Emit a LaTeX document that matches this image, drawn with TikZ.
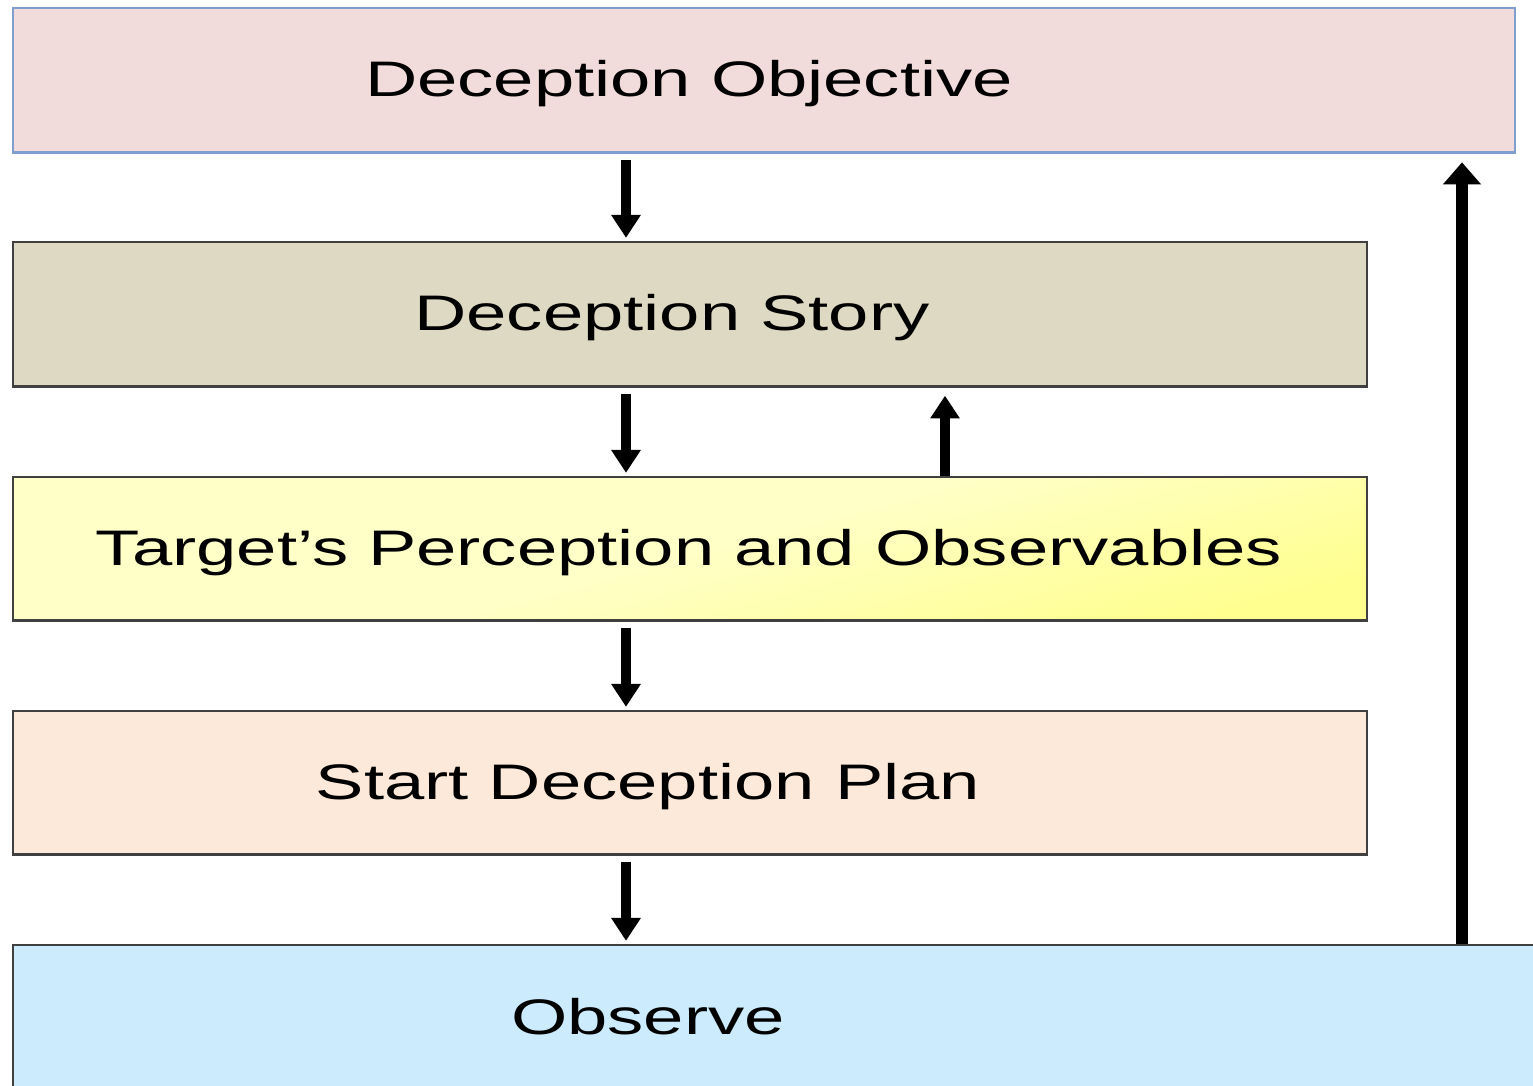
\documentclass[tikz,border=0pt]{standalone}
\usepackage{fontspec}
\newfontfamily\widesans[FakeStretch=1.45]{Liberation Sans}
\usetikzlibrary{arrows.meta}
\definecolor{objfill}{HTML}{F2DCDB}
\definecolor{objline}{HTML}{7F9FD0}
\definecolor{storyfill}{HTML}{DDD9C3}
\definecolor{planfill}{HTML}{FDE9D9}
\definecolor{obsfill}{HTML}{CCEBFC}
\definecolor{boxline}{HTML}{404040}
\definecolor{tgtlight}{HTML}{FFFFC8}
\definecolor{tgtdark}{HTML}{FFFF90}
\tikzset{
  box/.style={draw=boxline, line width=0.7pt, rectangle, inner sep=0pt, anchor=north west},
  lbl/.style={anchor=base, inner sep=0pt, font=\widesans\fontsize{14.2pt}{17pt}\selectfont, text=black},
  darrow/.style={line width=2.6pt, -{Triangle[length=6.5pt,width=8pt]}},
  bigarrow/.style={line width=3.4pt, -{Triangle[length=6.3pt,width=10.5pt]}}
}
\begin{document}
\begin{tikzpicture}[x=0.01cm, y=-0.01cm]
\useasboundingbox (0,0) rectangle (1533,1086);
\begin{scope}
\clip (0,0) rectangle (1533,1086);
% boxes
\node[box, draw=objline, fill=objfill, minimum width=15.01cm, minimum height=1.44cm] (obj) at (12,7) {};
\node[box, fill=storyfill, minimum width=13.53cm, minimum height=1.44cm] (story) at (12,241) {};
\node[box, top color=tgtlight, bottom color=tgtdark, middle color=tgtlight, shading angle=15, minimum width=13.53cm, minimum height=1.43cm] (tgt) at (12,476) {};
\node[box, fill=planfill, minimum width=13.53cm, minimum height=1.43cm] (plan) at (12,710) {};
\node[box, fill=obsfill, minimum width=15.6cm, minimum height=1.5cm] (obs) at (12,944) {};
\end{scope}
% labels
\node[lbl] (tobj) at (689,97) {Deception Objective};
\node[lbl] (tstory) at (672,331) {Deception Story};
\node[lbl] (ttgt) at (689,566) {Target’s Perception and Observables};
\node[lbl] (tplan) at (648,800) {Start Deception Plan};
\node[lbl] (tobs) at (648,1035) {Observe};
% arrows
\coordinate (ax) at (626,0);
\coordinate (bx) at (945,0);
\coordinate (cx) at (1462,0);
\draw[darrow, shorten <=1.7pt, shorten >=0.9pt] (obj.south -| ax) -- (story.north -| ax);
\draw[darrow, shorten <=1.7pt, shorten >=0.9pt] (story.south -| ax) -- (tgt.north -| ax);
\draw[darrow, shorten <=1.7pt, shorten >=0.9pt] (tgt.south -| ax) -- (plan.north -| ax);
\draw[darrow, shorten <=1.7pt, shorten >=0.9pt] (plan.south -| ax) -- (obs.north -| ax);
\draw[darrow, shorten >=2.3pt] (tgt.north -| bx) -- (story.south -| bx);
\draw[bigarrow, shorten >=2.5pt] (obs.north -| cx) -- (obj.south -| cx);
\end{tikzpicture}
\end{document}
